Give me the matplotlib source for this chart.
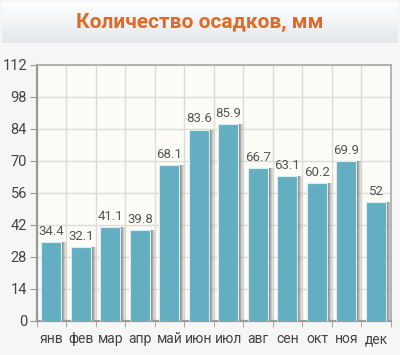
import numpy as np
import matplotlib.pyplot as plt
from matplotlib.colors import LinearSegmentedColormap

months = ['янв', 'фев', 'мар', 'апр', 'май', 'июн', 'июл', 'авг', 'сен', 'окт', 'ноя', 'дек']
values = [34.4, 32.1, 41.1, 39.8, 68.1, 83.6, 85.9, 66.7, 63.1, 60.2, 69.9, 52]
y_ticks = [0, 14, 28, 42, 56, 70, 84, 98, 112]
title = 'Количество осадков, мм'

plt.rcParams['font.family'] = ['Roboto', 'DejaVu Sans']

W, H = 400, 355
fig = plt.figure(figsize=(W / 100, H / 100), dpi=100)
fig.patch.set_facecolor('#f6f6f6')

# title box: soft shadow under a white-to-grey gradient
sax = fig.add_axes([3 / W, (H - 46) / H, 395 / W, 42 / H], zorder=0)
sax.set_facecolor('#d4d7db')
sax.set_axis_off()
sax.patch.set_visible(True)
sax.patch.set_alpha(0.7)
tax = fig.add_axes([2 / W, (H - 43) / H, 396 / W, 41 / H], zorder=1)
grad = np.linspace(1, 0, 64).reshape(-1, 1)
cmap = LinearSegmentedColormap.from_list('g', ['#e4e8ec', '#ffffff'])
tax.imshow(grad, aspect='auto', cmap=cmap, extent=[0, 1, 0, 1])
tax.set_axis_off()
tax.text(0.5, 0.5, title, ha='center', va='center', fontsize=15,
         fontweight='bold', color='#df6a27', transform=tax.transAxes)

ax = fig.add_axes([36.7 / W, 34 / H, 354 / W, 256.5 / H], zorder=1)
ax.set_facecolor('#fdfcf7')
x = np.arange(len(months))
bw = 0.68
px = 1 / 29.5

# soft shadow at the right side of each bar
for k, a in zip(range(1, 7), [0.5, 0.4, 0.3, 0.2, 0.12, 0.06]):
    ax.bar(x + k * px, values, width=bw, color='#6a6a6a', alpha=a,
           edgecolor='none', zorder=2)
ax.bar(x, values, width=bw, color='#63aec1', edgecolor='#d8eef3',
       linewidth=0.8, zorder=3)

for xi, v in zip(x, values):
    ax.text(xi, v + 1.8, f'{v:g}', ha='center', va='bottom',
            fontsize=9.5, color='#555555', zorder=4)

ax.set_xlim(-0.5, len(months) - 0.5)
ax.set_ylim(0, 112)
ax.set_yticks(y_ticks)
ax.set_xticks(x)
ax.set_xticklabels(months)
ax.set_xticks(np.arange(-0.5, len(months)), minor=True)
ax.tick_params(axis='x', which='major', length=0, pad=8, labelsize=10,
               labelcolor='#444444')
ax.tick_params(axis='x', which='minor', length=4, color='#999999')
ax.tick_params(axis='y', length=5, color='#999999', labelsize=10.5,
               labelcolor='#444444', pad=2)
ax.grid(True, axis='y', color='#dcdcd4', linewidth=1, zorder=0)
ax.grid(True, axis='x', which='minor', color='#dcdcd4', linewidth=1, zorder=0)
ax.set_axisbelow(True)
for side in ['left', 'bottom']:
    ax.spines[side].set_color('#999999')
    ax.spines[side].set_linewidth(1.6)
for side in ['top', 'right']:
    ax.spines[side].set_color('#aaaaaa')
    ax.spines[side].set_linewidth(1.2)

plt.savefig('out.png', dpi=100, facecolor=fig.get_facecolor())
